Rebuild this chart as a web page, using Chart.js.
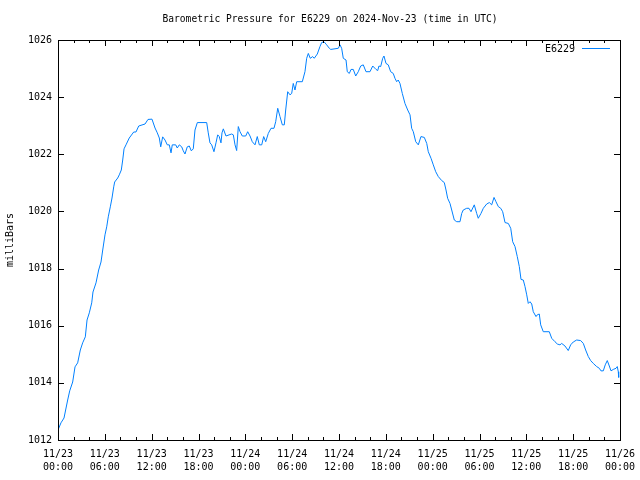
<!DOCTYPE html>
<html>
<head>
<meta charset="utf-8">
<title>Barometric Pressure</title>
<script src="https://cdn.jsdelivr.net/npm/chart.js@4.4.1/dist/chart.umd.min.js"></script>
<style>
  html, body { margin: 0; padding: 0; background: #fff; }
  canvas { display: block; }
</style>
</head>
<body>
<canvas id="my-chart" width="640" height="480"></canvas>
<script>
// hours since 2024-11-23 00:00 UTC
const hours = [
  0.0, 0.38, 0.77, 1.24, 1.50, 1.88, 2.18, 2.52, 2.86, 3.16, 3.50, 3.72, 4.01, 4.32, 4.48, 4.87,
  5.21, 5.51, 5.73, 6.02, 6.24, 6.44, 6.70, 6.92, 7.14, 7.26, 7.65, 7.85, 8.11, 8.29, 8.46, 8.71,
  9.13, 9.70, 9.99, 10.34, 11.15, 11.53, 12.04, 12.43, 12.72, 12.98, 13.16, 13.41, 13.71, 14.00,
  14.26, 14.48, 14.64, 15.08, 15.28, 15.54, 15.85, 16.05, 16.27, 16.56, 16.82, 17.08, 17.33, 17.55,
  17.85, 19.05, 19.25, 19.47, 19.69, 19.98, 20.24, 20.46, 20.66, 20.88, 21.01, 21.18, 21.52, 22.03,
  22.25, 22.46, 22.68, 22.89, 23.10, 23.32, 23.61, 24.05, 24.30, 24.60, 24.89, 25.24, 25.53, 25.79,
  26.10, 26.35, 26.61, 26.94, 27.29, 27.67, 27.89, 28.15, 28.44, 28.74, 28.99, 29.17, 29.43, 29.72,
  29.94, 30.14, 30.36, 30.58, 31.30, 31.64, 31.86, 32.07, 32.32, 32.63, 32.83, 33.22, 33.56, 33.78,
  34.08, 34.42, 34.76, 34.94, 35.91, 36.13, 36.34, 36.55, 36.90, 37.06, 37.32, 37.54, 37.83, 38.14,
  38.47, 38.78, 39.11, 39.46, 39.97, 40.32, 40.74, 40.96, 41.12, 41.34, 41.60, 41.76, 42.02, 42.31,
  42.62, 42.95, 43.17, 43.39, 43.59, 43.81, 44.11, 44.45, 44.80, 45.10, 45.31, 45.52, 45.83, 46.16,
  46.50, 46.93, 47.24, 47.44, 47.79, 48.08, 48.39, 48.72, 49.16, 49.49, 49.71, 49.92, 50.22, 50.44,
  50.77, 51.08, 51.50, 51.72, 51.92, 52.36, 52.65, 52.91, 53.33, 53.64, 53.84, 54.19, 54.49, 54.92,
  55.26, 55.56, 55.86, 56.11, 56.41, 56.72, 56.97, 57.27, 57.69, 58.00, 58.25, 58.55, 58.84, 59.10,
  59.32, 59.61, 59.83, 60.05, 60.25, 60.47, 60.69, 60.89, 61.24, 61.40, 61.66, 61.84, 62.17, 62.94,
  63.25, 63.67, 63.97, 64.31, 64.53, 64.95, 65.37, 65.68, 66.01, 66.45, 66.96, 67.30, 67.60, 67.94,
  68.24, 68.58, 69.01, 69.35, 69.56, 69.86, 70.11, 70.37, 70.63, 70.85, 71.14, 71.49, 71.65, 71.78,
  71.83
];

const pressure = [
  1012.35, 1012.60, 1012.77, 1013.40, 1013.72, 1014.03, 1014.56, 1014.70, 1015.15, 1015.40, 1015.61, 1016.20, 1016.45, 1016.80, 1017.18, 1017.50,
  1017.95, 1018.23, 1018.65, 1019.18, 1019.46, 1019.81, 1020.16, 1020.47, 1020.86, 1021.03, 1021.17, 1021.28, 1021.45, 1021.80, 1022.19, 1022.33,
  1022.57, 1022.78, 1022.78, 1022.99, 1023.06, 1023.22, 1023.23, 1022.92, 1022.75, 1022.57, 1022.26, 1022.61, 1022.50, 1022.33,
  1022.33, 1022.05, 1022.33, 1022.33, 1022.22, 1022.33, 1022.26, 1022.12, 1022.01, 1022.26, 1022.29, 1022.12, 1022.19, 1022.85,
  1023.11, 1023.11, 1022.75, 1022.40, 1022.33, 1022.09, 1022.40, 1022.68, 1022.62, 1022.40, 1022.75, 1022.89, 1022.64, 1022.69,
  1022.71, 1022.68, 1022.33, 1022.13, 1022.97, 1022.79, 1022.64, 1022.64, 1022.79, 1022.64, 1022.44, 1022.33, 1022.62, 1022.33,
  1022.33, 1022.62, 1022.44, 1022.73, 1022.91, 1022.91, 1023.14, 1023.61, 1023.32, 1023.03, 1023.03, 1023.55, 1024.19, 1024.08,
  1024.13, 1024.48, 1024.25, 1024.54, 1024.54, 1024.89, 1025.36, 1025.53, 1025.36, 1025.42, 1025.36, 1025.51, 1025.77, 1025.91,
  1025.94, 1025.83, 1025.71, 1025.67, 1025.71, 1025.83, 1025.71, 1025.36, 1025.30, 1024.89, 1024.83, 1024.97, 1024.97, 1024.74,
  1024.89, 1025.09, 1025.13, 1024.89, 1024.89, 1025.09, 1024.97, 1024.93, 1025.09, 1025.07, 1025.36, 1025.44, 1025.18, 1025.13,
  1024.89, 1024.83, 1024.66, 1024.54, 1024.60, 1024.48, 1024.13, 1023.78, 1023.55, 1023.38, 1022.91, 1022.79, 1022.44, 1022.33,
  1022.62, 1022.59, 1022.38, 1022.09, 1021.86, 1021.63, 1021.39, 1021.22, 1021.08, 1021.01, 1020.75, 1020.46, 1020.28, 1020.05,
  1019.70, 1019.64, 1019.64, 1019.93, 1020.05, 1020.11, 1020.11, 1019.99, 1020.23, 1019.93, 1019.76, 1019.93, 1020.11, 1020.26,
  1020.31, 1020.23, 1020.49, 1020.34, 1020.17, 1020.11, 1019.99, 1019.61, 1019.58, 1019.41, 1018.94, 1018.77, 1018.42, 1018.07,
  1017.62, 1017.60, 1017.37, 1017.08, 1016.78, 1016.84, 1016.76, 1016.49, 1016.32, 1016.38, 1016.41, 1016.03, 1015.79, 1015.79,
  1015.56, 1015.44, 1015.36, 1015.33, 1015.38, 1015.29, 1015.13, 1015.33, 1015.43, 1015.50, 1015.48, 1015.38, 1015.15, 1014.92,
  1014.78, 1014.68, 1014.57, 1014.51, 1014.42, 1014.42, 1014.63, 1014.78, 1014.59, 1014.42, 1014.47, 1014.51, 1014.57, 1014.39,
  1014.19
];

const dayLabels = ['11/23', '11/23', '11/23', '11/23', '11/24', '11/24', '11/24', '11/24', '11/25', '11/25', '11/25', '11/25', '11/26'];
const timeLabels = ['00:00', '06:00', '12:00', '18:00', '00:00', '06:00', '12:00', '18:00', '00:00', '06:00', '12:00', '18:00', '00:00'];

const stationName = 'E6229';
const chartTitle = 'Barometric Pressure for E6229 on 2024-Nov-23 (time in UTC)';
const lineColor = 'rgb(0, 128, 255)';
const fontFamily = '"DejaVu Sans Mono", "Liberation Mono", monospace';

document.addEventListener('DOMContentLoaded', () => {
  // gnuplot-style frame: border, inward ticks, title and legend
  const framePlugin = {
    id: 'frame',
    afterDraw(chart) {
      const { ctx, chartArea: a, scales } = chart;
      ctx.save();
      ctx.strokeStyle = '#000';
      ctx.lineWidth = 1;
      ctx.strokeRect(a.left + 0.5, a.top + 0.5, a.right - a.left, a.bottom - a.top);

      ctx.beginPath();
      for (let h = 0; h <= 72; h += 2) {
        const x = Math.round(scales.x.getPixelForValue(h)) + 0.5;
        const len = h % 6 === 0 ? 6 : 3;
        ctx.moveTo(x, a.bottom); ctx.lineTo(x, a.bottom - len);
        ctx.moveTo(x, a.top); ctx.lineTo(x, a.top + len);
      }
      for (let v = 1012; v <= 1026; v += 2) {
        const y = Math.round(scales.y.getPixelForValue(v)) + 0.5;
        ctx.moveTo(a.left, y); ctx.lineTo(a.left + 6, y);
        ctx.moveTo(a.right, y); ctx.lineTo(a.right - 6, y);
      }
      ctx.stroke();

      ctx.fillStyle = '#000';
      ctx.font = '9.6px ' + fontFamily;
      ctx.textAlign = 'center';
      ctx.textBaseline = 'middle';
      ctx.fillText(chartTitle, 330, 19);

      ctx.font = '10px ' + fontFamily;
      ctx.textAlign = 'right';
      ctx.fillText(stationName, a.right - 45, 49);
      ctx.strokeStyle = lineColor;
      ctx.beginPath();
      ctx.moveTo(a.right - 38, 48.5);
      ctx.lineTo(a.right - 10, 48.5);
      ctx.stroke();
      ctx.restore();
    },
  };

  const ctx = document.getElementById('my-chart').getContext('2d');
  new Chart(ctx, {
    type: 'line',
    data: {
      datasets: [
        {
          label: stationName,
          data: hours.map((h, i) => ({ x: h, y: pressure[i] })),
          borderColor: lineColor,
          borderWidth: 1,
          pointRadius: 0,
          tension: 0,
          fill: false,
        },
      ],
    },
    options: {
      responsive: false,
      animation: false,
      devicePixelRatio: 1,
      layout: { padding: { top: 40, right: 20, left: 0, bottom: 0 } },
      plugins: {
        legend: { display: false },
        tooltip: { enabled: false },
      },
      scales: {
        x: {
          type: 'linear',
          min: 0,
          max: 72,
          afterFit: (scale) => {
            scale.height = 40;
            scale.paddingLeft = 0;
            scale.paddingRight = 0;
          },
          afterBuildTicks: (scale) => {
            scale.ticks = dayLabels.map((d, i) => ({ value: i * 6 }));
          },
          grid: { display: false, drawTicks: false },
          border: { display: false },
          ticks: {
            autoSkip: false,
            maxRotation: 0,
            padding: 8,
            color: '#000',
            font: { family: fontFamily, size: 10, lineHeight: 1.3 },
            callback: (value) => {
              const i = Math.round(value / 6);
              return [dayLabels[i], timeLabels[i]];
            },
          },
        },
        y: {
          min: 1012,
          max: 1026,
          afterFit: (scale) => {
            scale.width = 58;
            scale.paddingTop = 0;
            scale.paddingBottom = 0;
          },
          grid: { display: false, drawTicks: false },
          border: { display: false },
          ticks: {
            stepSize: 2,
            padding: 6,
            color: '#000',
            font: { family: fontFamily, size: 10 },
            callback: (value) => String(value),
          },
          title: {
            display: true,
            text: 'milliBars',
            color: '#000',
            font: { family: fontFamily, size: 10 },
            padding: { top: 4, bottom: 0 },
          },
        },
      },
    },
    plugins: [framePlugin],
  });
});
</script>
</body>
</html>
